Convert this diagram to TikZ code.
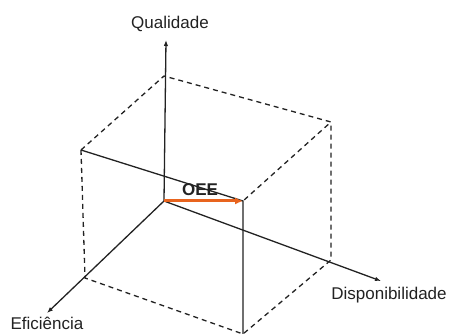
\documentclass[tikz,border=0pt]{standalone}
\usepackage{fontspec}
\setmainfont{Liberation Sans}
\usetikzlibrary{arrows.meta}
\definecolor{ink}{HTML}{222222}
\definecolor{oee}{HTML}{E8641E}
\begin{document}
\begin{tikzpicture}[x=1pt,y=-1pt,
  solidline/.style={draw=ink,line width=1.3pt},
  dashline/.style={draw=ink,line width=1.3pt,dash pattern=on 5pt off 4pt},
  axis/.style={solidline,-{Latex[length=6pt,width=4.5pt]}},
  lbl/.style={font=\fontsize{17}{20}\selectfont,text=ink,inner sep=0pt}]
\useasboundingbox (0,0) rectangle (451,334);
% vertices
\coordinate (O) at (164,201);
\coordinate (Qtip) at (166,40);
\coordinate (Etip) at (47,313);
\coordinate (Dtip) at (381,281);
\coordinate (TB) at (164,76);
\coordinate (TL) at (81,150);
\coordinate (TR) at (331,122);
\coordinate (TF) at (243,201);
\coordinate (BL) at (85,278);
\coordinate (BF) at (243,334);
\coordinate (BR) at (331,260);
% dashed cube edges
\draw[dashline] (TL) -- (TB) -- (TR) -- (TF);
\draw[dashline] (TL) -- (BL) -- (BF) -- (BR) -- (TR);
% solid lines
\draw[solidline] (TL) -- (TF) -- (BF);
\draw[axis] (O) -- (Qtip);
\draw[axis] (O) -- (Etip);
\draw[axis] (O) -- (Dtip);
% OEE arrow
\draw[draw=oee,line width=3pt,-{Latex[length=8pt,width=7pt]}] (O) -- (TF);
% labels
\node[lbl] (q) at (170,24) {Qualidade};
\node[lbl] (e) at (47,323) {Eficiência};
\node[lbl] (d) at (389,295) {Disponibilidade};
\node[lbl,font=\fontsize{17}{20}\selectfont\bfseries] (oeel) at (200,190) {OEE};
\end{tikzpicture}
\end{document}
